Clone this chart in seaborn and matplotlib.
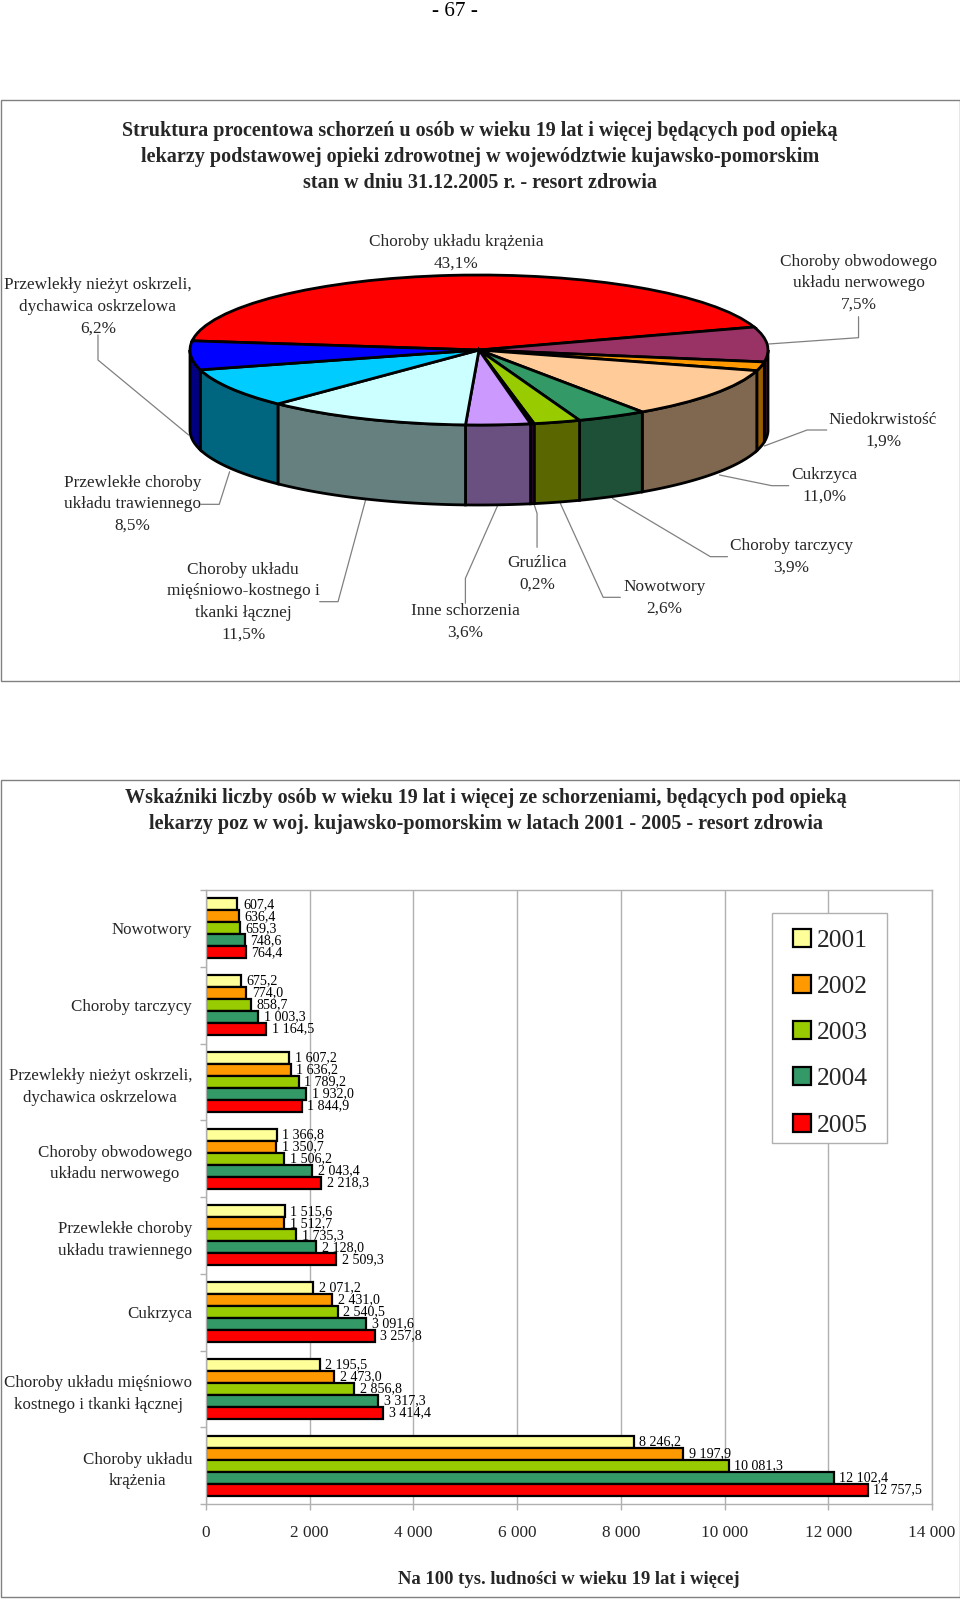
import numpy as np
import pandas as pd
import matplotlib
matplotlib.use('Agg')
import matplotlib.pyplot as plt
from matplotlib.patches import Rectangle
import seaborn as sns

# pie data, clockwise from the red slice
pie_names = ['Choroby układu krążenia', 'Choroby obwodowego\nukładu nerwowego', 'Niedokrwistość',
             'Cukrzyca', 'Choroby tarczycy', 'Nowotwory', 'Gruźlica', 'Inne schorzenia',
             'Choroby układu\nmięśniowo-kostnego i\ntkanki łącznej', 'Przewlekłe choroby\nukładu trawiennego',
             'Przewlekły nieżyt oskrzeli,\ndychawica oskrzelowa']
pie_values = [43.1, 7.5, 1.9, 11.0, 3.9, 2.6, 0.2, 3.6, 11.5, 8.5, 6.2]
pie_colors = ['#FF0000', '#993366', '#FF9900', '#FFCC99', '#339966', '#99CC00',
              '#660066', '#CC99FF', '#CCFFFF', '#00CCFF', '#0000FF']
wall_colors = ['#800000', '#4D1A33', '#995C00', '#806850', '#1E5037', '#5A6600',
               '#330033', '#6A5080', '#668080', '#006680', '#000080']

# bar data
categories = ['Nowotwory', 'Choroby tarczycy', 'Przewlekły nieżyt oskrzeli,\ndychawica oskrzelowa',
              'Choroby obwodowego\nukładu nerwowego', 'Przewlekłe choroby\nukładu trawiennego', 'Cukrzyca',
              'Choroby układu mięśniowo\nkostnego i tkanki łącznej', 'Choroby układu\nkrążenia']
years = ['2001', '2002', '2003', '2004', '2005']
v2001 = [607.4, 675.2, 1607.2, 1366.8, 1515.6, 2071.2, 2195.5, 8246.2]
v2002 = [636.4, 774.0, 1636.2, 1350.7, 1512.7, 2431.0, 2473.0, 9197.9]
v2003 = [659.3, 858.7, 1789.2, 1506.2, 1735.3, 2540.5, 2856.8, 10081.3]
v2004 = [748.6, 1003.3, 1932.0, 2043.4, 2128.0, 3091.6, 3317.3, 12102.4]
v2005 = [764.4, 1164.5, 1844.9, 2218.3, 2509.3, 3257.8, 3414.4, 12757.5]
year_colors = ['#FFFF99', '#FF9900', '#99CC00', '#339966', '#FF0000']

df = pd.DataFrame({'kategoria': categories * 5,
                   'rok': [y for y in years for _ in categories],
                   'wartosc': v2001 + v2002 + v2003 + v2004 + v2005})

sns.set_theme(style='white')
plt.rcParams['font.family'] = ['Liberation Serif', 'DejaVu Serif']
W, H = 960, 1600
fig = plt.figure(figsize=(W / 100, H / 100), dpi=100)
GREY = '#808080'
LIGHT = '#B0B0B0'
TXT = 12.4

# page layer in pixels
page = fig.add_axes([0, 0, 1, 1], zorder=0)
page.set_xlim(0, W)
page.set_ylim(H, 0)
page.axis('off')
page.add_patch(Rectangle((0.5, 100), 959, 581, fc='white', ec=GREY, lw=1))
page.add_patch(Rectangle((0.5, 780), 959, 817, fc='white', ec=GREY, lw=1))
page.text(455, 11, '- 67 -', ha='center', va='center', fontsize=15.3, color='black')
page.text(480, 157, 'Struktura procentowa schorzeń u osób w wieku 19 lat i więcej będących pod opieką\n'
          'lekarzy podstawowej opieki zdrowotnej w województwie kujawsko-pomorskim\n'
          'stan w dniu 31.12.2005 r. - resort zdrowia', ha='center', va='center',
          fontsize=14.5, fontweight='bold', linespacing=1.41)
page.text(486, 811, 'Wskaźniki liczby osób w wieku 19 lat i więcej ze schorzeniami, będących pod opieką\n'
          'lekarzy poz w woj. kujawsko-pomorskim w latach 2001 - 2005 - resort zdrowia', ha='center', va='center',
          fontsize=14.5, fontweight='bold', linespacing=1.41)


# positions below were measured on a crop: x / 1.633, 220 + y / 3
def px(x, y):
    return x / 1.633, 220 + y / 3


label_pos = [(745, 99), (1402, 190), (1442, 631), (1346, 797), (1292, 1011), (1085, 1133),
             (877, 1061), (760, 1205), (397, 1146), (216, 853), (160, 260)]
leaders = [None,
           [(1402, 290), (1402, 353), (1255, 372)],
           [(1350, 630), (1318, 630), (1248, 678)],
           [(1288, 797), (1260, 797), (1175, 765)],
           [(1188, 1010), (1160, 1010), (1000, 835)],
           [(1013, 1132), (985, 1132), (915, 850)],
           [(877, 982), (877, 880), (872, 852)],
           [(760, 1150), (760, 1075), (813, 855)],
           [(522, 1145), (552, 1145), (597, 840)],
           [(328, 853), (358, 853), (375, 755)],
           [(160, 345), (160, 420), (308, 645)]]
for name, val, pos, lead in zip(pie_names, pie_values, label_pos, leaders):
    x, y = px(*pos)
    page.text(x, y, f"{name}\n{val:.1f}%".replace('.', ','), ha='center', va='center',
              fontsize=TXT, linespacing=1.47)
    if lead:
        pts = np.array([px(*p) for p in lead])
        page.plot(pts[:, 0], pts[:, 1], color=GREY, lw=0.9)

# 3d-looking pie: flat ax.pie squeezed into an ellipse, wall added below it
pie_l, pie_r, pie_t, pie_b, depth = 190, 768, 275, 425, 80
pie_ax = fig.add_axes([pie_l / W, 1 - (pie_b + depth) / H, (pie_r - pie_l) / W, (pie_b + depth - pie_t) / H],
                      zorder=2)
start = 173
pie_ax.pie(pie_values, colors=pie_colors, startangle=start, counterclock=False,
           wedgeprops={'edgecolor': 'black', 'linewidth': 2, 'clip_on': False})
drop = 2 * depth / (pie_b - pie_t)
pie_ax.set_aspect('auto')
pie_ax.set_xlim(-1, 1)
pie_ax.set_ylim(-1 - drop, 1)
pie_ax.axis('off')
edges = start - np.cumsum([0] + pie_values) * 3.6
for i, col in enumerate(wall_colors):
    # only the front half of the rim can be seen
    a0, a1 = np.clip(edges[i], -180, 0), np.clip(edges[i + 1], -180, 0)
    if a0 <= a1:
        continue
    t = np.radians(np.linspace(a1, a0, 60))
    xs = np.r_[np.cos(t), np.cos(t[::-1])]
    ys = np.r_[np.sin(t), np.sin(t[::-1]) - drop]
    pie_ax.fill(xs, ys, facecolor=col, edgecolor='black', linewidth=2, zorder=0, clip_on=False)

# bar chart
bar_l, bar_r, bar_t, bar_b = 206, 932, 890, 1504
ax = fig.add_axes([bar_l / W, 1 - bar_b / H, (bar_r - bar_l) / W, (bar_b - bar_t) / H], zorder=2)
sns.barplot(data=df, y='kategoria', x='wartosc', hue='rok', palette=year_colors, orient='h', width=0.78,
            edgecolor='black', linewidth=1.6, saturation=1, errorbar=None, ax=ax)
for container in ax.containers:
    labs = [f"{b.get_width():,.1f}".replace(',', ' ').replace('.', ',') for b in container]
    ax.bar_label(container, labels=labs, padding=4, fontsize=10.1, color='black')
ax.set_xlim(0, 14000)
ax.set_ylim(7.5, -0.5)
ax.set_xticks(np.arange(0, 14001, 2000))
ax.set_xticklabels([f"{v:,}".replace(',', ' ') for v in range(0, 14001, 2000)], fontsize=TXT)
ax.set_yticks(np.arange(-0.5, 8, 1), minor=True)
ax.tick_params(axis='y', which='major', length=0, pad=10, labelsize=12.2)
ax.tick_params(axis='y', which='minor', length=4, color=LIGHT, width=1, left=True)
ax.tick_params(axis='x', which='major', length=4, color=LIGHT, width=1, bottom=True, pad=11)
for lab in ax.get_yticklabels():
    lab.set_multialignment('center')
    lab.set_linespacing(1.47)
ax.xaxis.grid(True, color=LIGHT, lw=1)
ax.set_axisbelow(True)
for s in ax.spines.values():
    s.set_color(LIGHT)
    s.set_linewidth(1)
ax.set_xlabel('')
ax.set_ylabel('')
page.text(569, 1580, 'Na 100 tys. ludności w wieku 19 lat i więcej', ha='center', va='center',
          fontsize=13.4, fontweight='bold')

# legend box is drawn apart so the swatches can sit further in than the vertical padding
ax.add_patch(Rectangle((772, 913), 115, 230, transform=page.transData, fc='white', ec=LIGHT, lw=1,
                       clip_on=False, zorder=4))
leg = ax.legend(loc='upper left', bbox_to_anchor=(779 / W, 1 - 915 / H), bbox_transform=fig.transFigure,
                fontsize=18.4, frameon=False, borderaxespad=0, handlelength=0.7, handleheight=0.7,
                handletextpad=0.23, labelspacing=0.91, borderpad=0.55, title=None)
leg.set_zorder(5)

fig.savefig('out.png', dpi=100)
